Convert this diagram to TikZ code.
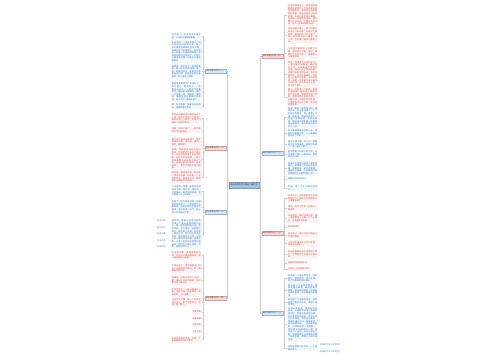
\documentclass[tikz,border=0pt]{standalone}
\usepackage{fontspec}
\newfontfamily\cjk{Noto Sans CJK SC}
\XeTeXlinebreaklocale "zh"
\XeTeXlinebreakskip=0pt plus 0.5pt
\definecolor{RootFill}{HTML}{A9C3E0}
\definecolor{RootLine}{HTML}{7A9CC6}
\definecolor{PinkBox}{HTML}{F8D9D9}
\definecolor{PinkLine}{HTML}{E39A9A}
\definecolor{PinkBg}{HTML}{FDF3F3}
\definecolor{PinkText}{HTML}{D9534F}
\definecolor{BlueBox}{HTML}{DCE8F5}
\definecolor{BlueLine}{HTML}{93B4DA}
\definecolor{BlueBg}{HTML}{F2F7FD}
\definecolor{BlueText}{HTML}{3A78C4}
\definecolor{LinkGray}{HTML}{CCCCCC}

\begin{document}
\begin{tikzpicture}[x=1pt,y=-1pt,
    leaf/.style={font=\cjk\fontsize{2.1}{2.6}\selectfont,text width=29pt,
      inner sep=1pt,align=justify},
    pinkleaf/.style={leaf,fill=PinkBg,text=PinkText},
    blueleaf/.style={leaf,fill=BlueBg,text=BlueText},
    tag/.style={font=\cjk\fontsize{2.1}{2.6}\selectfont,inner sep=0.8pt},
    branch/.style={font=\cjk\fontsize{1.9}{2.2}\selectfont,minimum width=21pt,
      minimum height=4.2pt,inner sep=0.5pt,draw,line width=0.25pt,text=black!75},
    pinkbranch/.style={branch,fill=PinkBox,draw=PinkLine},
    bluebranch/.style={branch,fill=BlueBox,draw=BlueLine},
    root/.style={font=\cjk\fontsize{2.1}{2.4}\selectfont,fill=RootFill,draw=RootLine,
      line width=0.25pt,minimum width=30pt,minimum height=5.5pt,inner sep=0.6pt,text=black!80},
    link/.style={draw=LinkGray,line width=0.3pt}]
  \useasboundingbox (0,0) rectangle (500,360);

  % centre and branches
  \node[root] (c) at (244,185) {秋天的景色作文精选八篇范文};
  \node[bluebranch] (l1) at (215.5,71) {秋天的景色作文（一）};
  \node[pinkbranch] (l2) at (215.5,148) {秋天的景色作文（二）};
  \node[bluebranch] (l3) at (215.5,212) {秋天的景色作文（三）};
  \node[pinkbranch] (l4) at (215.5,298) {秋天的景色作文（四）};
  \node[pinkbranch] (r1) at (272.5,56) {秋天的景色作文（五）};
  \node[bluebranch] (r2) at (272.5,153) {秋天的景色作文（六）};
  \node[pinkbranch] (r3) at (272.5,233) {秋天的景色作文（七）};
  \node[bluebranch] (r4) at (272.5,313) {秋天的景色作文（八）};

  % left, first essay
  \node[blueleaf,anchor=east] (l1a) at (202,36) {秋天来了，天空变得又高又蓝，几朵白云慢慢地飘着。};
  \node[blueleaf,anchor=east] (l1b) at (202,51.5) {走进公园，一阵秋风吹过，树上的叶子纷纷落下来，像一只只黄色的蝴蝶在空中飞舞。枫树的叶子红得像火，远远望去，好像一片燃烧的晚霞。池塘里的荷叶已经枯了，只剩下几根弯弯的茎，小鱼在水里游来游去。};
  \node[blueleaf,anchor=east] (l1c) at (202,71.5) {田野里，稻子熟了，金黄金黄的，像一片金色的海洋。风一吹，稻穗点着头，好像在向农民伯伯问好。农民伯伯们忙着收割，脸上露出了笑容。};
  \node[blueleaf,anchor=east] (l1d) at (202,92) {果园里更是热闹，苹果红了，梨子黄了，葡萄紫了，一串串挂在枝头。小朋友们提着篮子，踮起脚尖摘果子，摘下一个就尝一尝，甜甜的，香香的。果园里到处都是欢声笑语，连小鸟也飞来凑热闹了。};
  \node[blueleaf,anchor=east] (l1e) at (202,106) {啊，秋天真美！我爱这五彩缤纷、硕果累累的秋天。};

  % left, second essay
  \node[pinkleaf,anchor=east] (l2a) at (202,118.5) {秋姑娘迈着轻盈的脚步来到了人间，她给大地换上了新装，给树木染上了颜色，也给人们带来了丰收的喜悦。};
  \node[pinkleaf,anchor=east] (l2b) at (202,130) {清晨，我推开窗户，一股凉爽的空气扑面而来。};
  \node[pinkleaf,anchor=east] (l2c) at (202,142) {路边的小草渐渐变黄了，菊花却开得正艳，有白的、黄的、紫的，美丽极了。};
  \node[pinkleaf,anchor=east] (l2d) at (202,159) {傍晚，我和爸爸妈妈去河边散步。夕阳把河水染成了橘红色，岸边的柳树垂下长长的枝条，在风中轻轻摇摆。一群大雁排着整齐的队伍向南方飞去，好像在和我们告别。天渐渐黑了，我们才依依不舍地回家。};
  \node[pinkleaf,anchor=east] (l2e) at (202,177) {秋天是一幅美丽的画，秋天是一首动听的歌，秋天是一个丰收的季节。我喜欢秋天，更喜欢秋天带给我们的快乐。};

  % left, third essay
  \node[blueleaf,anchor=east] (l3a) at (202,191) {一场秋雨一场寒。秋雨淅淅沥沥地下着，像牛毛，像花针，又像细丝，密密地斜织着，给大地披上了一层薄纱。};
  \node[blueleaf,anchor=east] (l3b) at (202,207) {雨停了，空气格外清新。校园里的桂花开了，一阵阵香气扑鼻而来，同学们都忍不住停下脚步，深深地吸一口气。树上的小鸟也唱起了歌。};
  \node[blueleaf,anchor=east] (l3c) at (202,234) {放学后，我和小伙伴们来到山坡上。漫山遍野的枫叶红了，像一团团燃烧的火焰。我们捡起一片片落叶，有的像小扇子，有的像小手掌，有的像一把把小伞。我们把它们夹在书里，做成漂亮的书签。山坡下的小溪哗哗地流着，清澈见底，几条小鱼在石头缝里钻来钻去。我们在山坡上奔跑、欢笑，直到太阳下山。};
  \node[tag,text=BlueText] (t1) at (161.5,221) {秋天的雨};
  \node[tag,text=BlueText] (t2) at (161.5,227.5) {秋天的叶};
  \node[tag,text=BlueText] (t3) at (161.5,234) {秋天的果};
  \node[tag,text=BlueText] (t4) at (161.5,240.5) {秋天的风};
  \node[tag,text=BlueText] (t5) at (161.5,247) {秋天的花};

  % left, fourth essay
  \node[pinkleaf,anchor=east] (l4a) at (202,255.5) {秋天的早晨，薄雾笼罩着大地，远处的山峰若隐若现，像一幅淡淡的水墨画。};
  \node[pinkleaf,anchor=east] (l4b) at (202,268.5) {太阳出来了，雾渐渐散去，树叶上的露珠闪闪发光，像一颗颗晶莹的珍珠。};
  \node[pinkleaf,anchor=east] (l4c) at (202,280.5) {菜园里，白菜长得又大又绿，萝卜露出了红红的脑袋，南瓜躺在地上晒太阳。};
  \node[pinkleaf,anchor=east] (l4d) at (202,292) {中秋节到了，一家人围坐在一起，吃着月饼，赏着明月，说说笑笑，十分温馨。};
  \node[pinkleaf,anchor=east] (l4e) at (202,302.5) {月亮又大又圆，像一个白玉盘挂在天上，洒下银色的光，照亮了整个院子。};
  \node[tag,fill=PinkBg,text=PinkText,anchor=east] (l4f) at (202,312) {秋高气爽};
  \node[tag,fill=PinkBg,text=PinkText,anchor=east] (l4g) at (202,318.5) {硕果累累};
  \node[tag,fill=PinkBg,text=PinkText,anchor=east] (l4h) at (202,325) {层林尽染};
  \node[tag,fill=PinkBg,text=PinkText,anchor=east] (l4i) at (202,332) {五谷丰登};
  \node[pinkleaf,anchor=east] (l4j) at (202,339.5) {秋天是收获的季节，也是一个充满希望和快乐的季节。};

  % right, fifth essay
  \node[pinkleaf,anchor=west] (r1a) at (287,15) {秋天悄悄地来了。她没有春天那样生机勃勃，也没有夏天那样热情似火，更没有冬天那样银装素裹，但她有着自己独特的美。秋天的天空格外晴朗，蓝得像一块透明的宝石，偶尔飘过几朵白云。大雁从头顶飞过，留下一串串清脆的叫声。};
  \node[pinkleaf,anchor=west] (r1b) at (287,35.5) {走在林荫小道上，脚下的落叶发出沙沙的响声，好像在为我唱歌。银杏树的叶子全黄了，像一把把金色的小扇子，风一吹，它们便打着旋儿飘落下来。};
  \node[pinkleaf,anchor=west] (r1c) at (287,53) {小区里的石榴树上挂满了石榴，有的咧开了嘴，露出一颗颗红宝石似的籽儿，看着就让人垂涎欲滴。};
  \node[pinkleaf,anchor=west] (r1d) at (287,74) {周末，我跟着爷爷来到乡下。一望无际的田野里，高粱涨红了脸，玉米露出了金黄的牙齿，棉花吐出了雪白的絮。农民们有的在掰玉米，有的在割稻子，有的在摘棉花，到处是一片繁忙的景象。爷爷告诉我，这是一年中最忙碌也最快乐的时候，因为辛苦了一年，终于有了收获。};
  \node[pinkleaf,anchor=west] (r1e) at (287,97) {晚上，月亮爬上了树梢，星星眨着眼睛。草丛里的蟋蟀开起了音乐会，唧唧唧地唱个不停。我躺在院子里的竹椅上，听着虫鸣，闻着桂花的香味，心里感到无比的宁静。秋天的夜晚真美！};

  % right, sixth essay
  \node[blueleaf,anchor=west] (r2a) at (287,117.5) {我家门前有一棵老柿子树。每到秋天，树上就挂满了一个个红彤彤的柿子，像一盏盏小灯笼。奶奶说，等柿子熟透了，就摘下来做柿饼。我天天盼着，每天放学回家第一件事就是去看柿子，看它们是不是又红了一些。};
  \node[blueleaf,anchor=west] (r2b) at (287,133.5) {终于等到摘柿子的那一天，我和奶奶拿着竹竿，小心翼翼地把柿子打下来。};
  \node[blueleaf,anchor=west] (r2c) at (287,144.5) {柿子又软又甜，咬一口，甜甜的汁水流到嘴里，真是好吃极了，我一连吃了两个。};
  \node[blueleaf,anchor=west] (r2d) at (287,154.5) {奶奶把剩下的柿子削了皮，挂在屋檐下晒，一串串的，像红红的小灯笼。};
  \node[blueleaf,anchor=west] (r2e) at (287,168.5) {秋天不仅给我们带来了美丽的景色，还带来了许多好吃的水果。我爱秋天，爱它的美丽，更爱它的慷慨。它把最甜的果实都送给了辛勤劳动的人们。};
  \node[tag,fill=BlueBg,text=BlueText,anchor=west] (r2f) at (287,179) {我爱秋天的柿子树。};
  \node[blueleaf,anchor=west] (r2g) at (287,188) {秋天，是一个令人难忘的季节。};

  % right, seventh essay
  \node[pinkleaf,anchor=west] (r3a) at (287,198.5) {秋天到了，校园里的景色变得更加迷人，操场边的梧桐树叶子慢慢变黄了。};
  \node[pinkleaf,anchor=west] (r3b) at (287,208) {课间，同学们在树下捡落叶、做游戏。};
  \node[pinkleaf,anchor=west] (r3c) at (287,218) {花坛里的一串红开得正旺，像一串串鞭炮，又像一个个小喇叭，在吹着秋天的歌。};
  \node[tag,fill=PinkBg,text=PinkText,anchor=west] (r3d) at (287,227) {秋天真好啊！};
  \node[pinkleaf,anchor=west] (r3e) at (287,235) {秋风吹过，落叶在空中跳起了优美的舞蹈。};
  \node[pinkleaf,anchor=west] (r3f) at (287,243.5) {小松鼠忙着储存过冬的食物，蚂蚁也在搬家。};
  \node[pinkleaf,anchor=west] (r3g) at (287,254.5) {秋天把最美好的礼物送给了我们，让我们的生活更加丰富多彩。};
  \node[tag,fill=PinkBg,text=PinkText,anchor=west] (r3h) at (287,263) {我喜欢这美丽的秋天。};
  \node[tag,fill=PinkBg,text=PinkText,anchor=west] (r3i) at (287,269) {让我们一起拥抱秋天吧！};

  % right, eighth essay
  \node[blueleaf,anchor=west] (r4a) at (287,278.5) {秋天是一个多彩的季节，红的枫叶，黄的银杏，绿的松柏，把大地装扮得五彩缤纷。};
  \node[blueleaf,anchor=west] (r4b) at (287,290.5) {秋天是一个丰收的季节，田野里稻谷飘香，果园里果实累累，农民伯伯的脸上洋溢着丰收的喜悦，到处都是欢声笑语。};
  \node[blueleaf,anchor=west] (r4c) at (287,302.5) {秋天是一个凉爽的季节，秋风送走了夏天的炎热，带来了阵阵清凉。};
  \node[blueleaf,anchor=west] (r4d) at (287,324) {记得去年秋天，我和妈妈去登山。山路两旁长满了各种各样的树，有高大挺拔的白杨，有四季常青的松树，还有火红火红的枫树。爬到半山腰时，我累得满头大汗，想要放弃。妈妈鼓励我说：“坚持就是胜利，山顶的风景一定更美。”我咬紧牙关继续往上爬，终于登上了山顶。站在山顶往下看，层层叠叠的山林像被打翻了的调色盘，美得让人说不出话来。};
  \node[blueleaf,anchor=west] (r4e) at (287,348) {这就是我眼中的秋天，一个美丽的季节。};
  \node[tag,text=BlueText,anchor=west] (b1) at (319,345) {秋天的作文300字范文};
  \node[tag,text=BlueText,anchor=west] (b2) at (319,352) {秋天的作文500字范文};

  % connectors
  \foreach \b in {l1,l2,l3,l4}
    \draw[link] (c.west) -- ++(-1.5,0) |- (\b.east);
  \foreach \b in {r1,r2,r3,r4}
    \draw[link] (c.east) -- ++(1.5,0) |- (\b.west);
  \foreach \k in {l1a,l1b,l1c,l1d,l1e}
    \draw[link] (l1.west) -- ++(-1.5,0) |- (\k.east);
  \foreach \k in {l2a,l2b,l2c,l2d,l2e}
    \draw[link] (l2.west) -- ++(-1.5,0) |- (\k.east);
  \foreach \k in {l3a,l3b,l3c}
    \draw[link] (l3.west) -- ++(-1.5,0) |- (\k.east);
  \foreach \k in {l4a,l4b,l4c,l4d,l4e,l4f,l4g,l4h,l4i,l4j}
    \draw[link] (l4.west) -- ++(-1.5,0) |- (\k.east);
  \foreach \k in {r1a,r1b,r1c,r1d,r1e}
    \draw[link] (r1.east) -- ++(1.5,0) |- (\k.west);
  \foreach \k in {r2a,r2b,r2c,r2d,r2e,r2f,r2g}
    \draw[link] (r2.east) -- ++(1.5,0) |- (\k.west);
  \foreach \k in {r3a,r3b,r3c,r3d,r3e,r3f,r3g,r3h,r3i}
    \draw[link] (r3.east) -- ++(1.5,0) |- (\k.west);
  \foreach \k in {r4a,r4b,r4c,r4d,r4e}
    \draw[link] (r4.east) -- ++(1.5,0) |- (\k.west);
\end{tikzpicture}
\end{document}
